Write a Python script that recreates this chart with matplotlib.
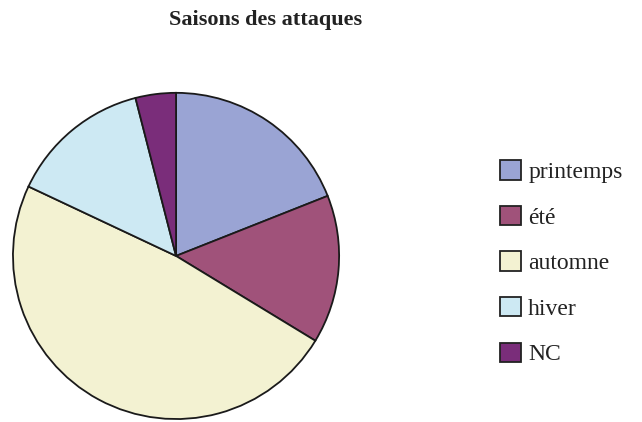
import matplotlib.pyplot as plt
from matplotlib.patches import Patch

labels = ['printemps', 'été', 'automne', 'hiver', 'NC']
values = [19, 14.7, 48.3, 14, 4]
colors = ['#9aa4d4', '#a0527a', '#f3f2d2', '#cde9f3', '#7a2d7a']

plt.rcParams['font.family'] = ['Liberation Serif', 'DejaVu Serif']

fig = plt.figure(figsize=(6.42, 4.22), dpi=100)
ax = fig.add_axes([0.0202, 0.007, 0.508, 0.773])
ax.pie(values, colors=colors, startangle=90, counterclock=False,
       wedgeprops=dict(edgecolor='#1a1a1a', linewidth=1.3))
ax.set_aspect('auto')
ax.set_xlim(-1.0, 1.0)
ax.set_ylim(-1.0, 1.0)

fig.text(0.413, 0.953, 'Saisons des attaques', ha='center', va='center',
         fontsize=16, fontweight='bold', color='#222222')

handles = [Patch(facecolor=c, edgecolor='#222222', linewidth=1.3) for c in colors]
fig.legend(handles, labels, loc='center left', bbox_to_anchor=(0.779, 0.377),
           frameon=False, fontsize=17, labelspacing=0.96,
           handlelength=0.89, handleheight=0.89, handletextpad=0.3,
           borderaxespad=0, borderpad=0, labelcolor='#222222')

fig.savefig('out.png', dpi=100)
